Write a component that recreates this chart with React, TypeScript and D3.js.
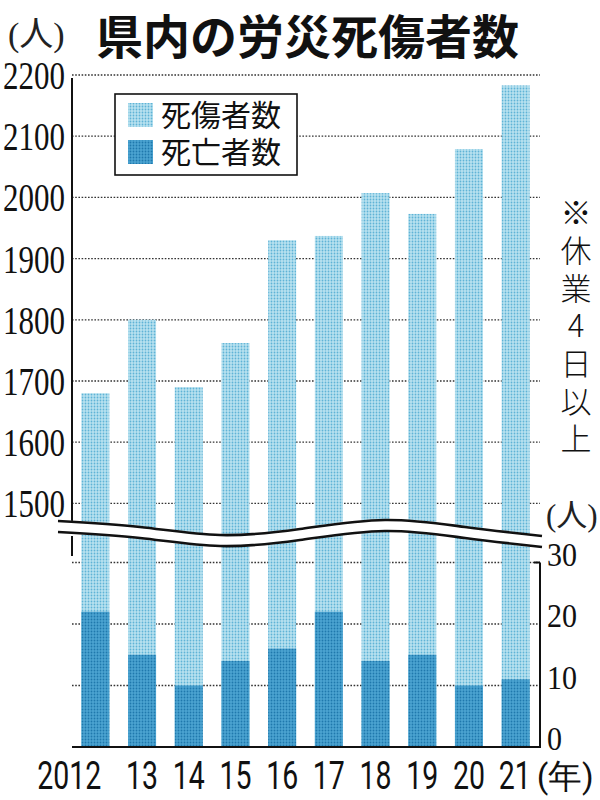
import React from "react";
import * as d3 from "d3";

const years = ["2012", "13", "14", "15", "16", "17", "18", "19", "20", "21"];
const casualties = [1680, 1800, 1690, 1762, 1930, 1937, 2007, 1973, 2079, 2183];
const deaths = [22, 15, 10, 14, 16, 22, 14, 15, 10, 11];
const upperTicks = [1500, 1600, 1700, 1800, 1900, 2000, 2100, 2200];
const lowerTicks = [0, 10, 20, 30];
const legendLabels = ["死傷者数", "死亡者数"];
const note = "※休業4日以上";
const title = "県内の労災死傷者数";

const SERIF = "'Liberation Serif', 'DejaVu Serif', 'Noto Sans CJK JP', serif";
const CJK = "'Noto Sans CJK JP', 'Noto Sans', sans-serif";
const SANS = "Roboto, 'Liberation Sans', sans-serif";

export default function App() {
  const x = d3.scaleBand<string>().domain(years).range([72, 539]).paddingInner(0.4).paddingOuter(0.2);
  const yU = d3.scaleLinear().domain([1500, 2200]).range([503.4, 75]);
  const yL = d3.scaleLinear().domain([0, 30]).range([747, 562.5]);
  const left = 72;
  const right = 540;

  const wavePts: [number, number][] = [
    [58, 521], [140, 527], [220, 535], [300, 529], [385, 520], [465, 527], [542, 536],
  ];
  const gap = 11;
  const topLine = d3.line().curve(d3.curveNatural)(wavePts) || "";
  const botLine = d3.line().curve(d3.curveNatural)(wavePts.map(([a, b]) => [a, b + gap] as [number, number])) || "";
  const band = d3.area().curve(d3.curveNatural).x((d) => d[0]).y0((d) => d[1] - 1).y1((d) => d[1] + gap + 1)(wavePts) || "";

  const bw = x.bandwidth();
  const lastX = (x("21") || 0) + bw / 2;

  return (
    <svg width={600} height={800} style={{ position: "absolute", left: 0, top: 0, background: "#fff" }}>
      <defs>
        <pattern id="pLight" width={3} height={3} patternUnits="userSpaceOnUse">
          <rect width={3} height={3} fill="#b8e2f0" />
          <circle cx={1.5} cy={1.5} r={0.9} fill="#5fb3d6" />
        </pattern>
        <pattern id="pDark" width={3} height={3} patternUnits="userSpaceOnUse">
          <rect width={3} height={3} fill="#4ba4d1" />
          <circle cx={1.5} cy={1.5} r={0.9} fill="#1f78ad" />
        </pattern>
      </defs>
      <rect width={600} height={800} fill="#fff" />

      {/* title */}
      <text x={96} y={54} fontFamily={CJK} fontWeight={700} fontSize={47} fill="#111">{title}</text>
      <text x={8} y={46} fontFamily={SERIF} fontSize={34} fill="#222">(人)</text>

      {/* gridlines */}
      {upperTicks.map((t) => (
        <line key={"gu" + t} x1={left} x2={right} y1={yU(t)} y2={yU(t)} stroke="#333" strokeWidth={1.3} strokeDasharray="1.6,1.6" />
      ))}
      {lowerTicks.filter((t) => t > 0).map((t) => (
        <line key={"gl" + t} x1={left} x2={right} y1={yL(t)} y2={yL(t)} stroke="#333" strokeWidth={1.3} strokeDasharray="1.6,1.6" />
      ))}

      {/* bars */}
      {years.map((yr, i) => (
        <g key={yr}>
          <rect x={x(yr)} y={yU(casualties[i])} width={bw} height={747 - yU(casualties[i])} fill="url(#pLight)" />
          <rect x={x(yr)} y={yL(deaths[i])} width={bw} height={747 - yL(deaths[i])} fill="url(#pDark)" />
        </g>
      ))}

      {/* axes */}
      <line x1={left} x2={left} y1={yU(2200) + 3} y2={528} stroke="#111" strokeWidth={2} />
      <line x1={left} x2={left} y1={536} y2={556} stroke="#111" strokeWidth={2} />
      <line x1={left} x2={right + 1} y1={747} y2={747} stroke="#111" strokeWidth={2} />
      <line x1={right} x2={right} y1={yL(30)} y2={748} stroke="#111" strokeWidth={2} />
      <line x1={right - 6} x2={right} y1={yL(30)} y2={yL(30)} stroke="#111" strokeWidth={2} />

      {/* wave break */}
      <path d={band} fill="#fff" />
      <path d={topLine} fill="none" stroke="#111" strokeWidth={2.6} />
      <path d={botLine} fill="none" stroke="#111" strokeWidth={2.6} />

      {/* upper tick labels */}
      {upperTicks.map((t) => (
        <text key={"tu" + t} x={65} y={yU(t) + 14} textAnchor="end" fontFamily={SERIF} fontSize={41} textLength={62} lengthAdjust="spacingAndGlyphs" fill="#111">{t}</text>
      ))}
      {/* lower tick labels */}
      {lowerTicks.map((t) => (
        <text key={"tl" + t} x={547} y={yL(t) + 3} fontFamily={SERIF} fontSize={34} textLength={t === 0 ? 15 : 30} lengthAdjust="spacingAndGlyphs" fill="#111">{t}</text>
      ))}
      <text x={546} y={526} fontFamily={SERIF} fontSize={31} fill="#222">(人)</text>

      {/* x labels */}
      {years.slice(0, -1).map((yr, i) => {
        const cx = (x(yr) || 0) + bw / 2;
        const w = yr.length * 16;
        return (
          <text key={"x" + yr} x={i === 0 ? cx - 26 : cx} y={789} textAnchor="middle" fontFamily={SANS} fontSize={38} textLength={w} lengthAdjust="spacingAndGlyphs" fill="#111">{yr}</text>
        );
      })}
      <text x={lastX - 17} y={789} fontFamily={SANS} fontSize={38} textLength={32} lengthAdjust="spacingAndGlyphs" fill="#111">{years[years.length - 1]}</text>
      <text x={lastX + 21} y={788} fontFamily={SANS} fontSize={34} textLength={57} lengthAdjust="spacingAndGlyphs" fill="#111">(年)</text>

      {/* legend */}
      <rect x={115} y={94} width={182} height={81} fill="#fff" stroke="#111" strokeWidth={1.6} />
      <rect x={128} y={103} width={25} height={24} fill="url(#pLight)" />
      <rect x={128} y={140} width={25} height={24} fill="url(#pDark)" />
      <text x={161} y={126} fontFamily={CJK} fontSize={30} fill="#111">{legendLabels[0]}</text>
      <text x={161} y={163} fontFamily={CJK} fontSize={30} fill="#111">{legendLabels[1]}</text>

      {/* vertical note */}
      <text x={576} y={197} fontFamily={CJK} fontWeight={300} fontSize={31} fill="#111"
        style={{ writingMode: "vertical-rl", textOrientation: "upright", letterSpacing: "6.7px" } as React.CSSProperties}>{note}</text>
    </svg>
  );
}
